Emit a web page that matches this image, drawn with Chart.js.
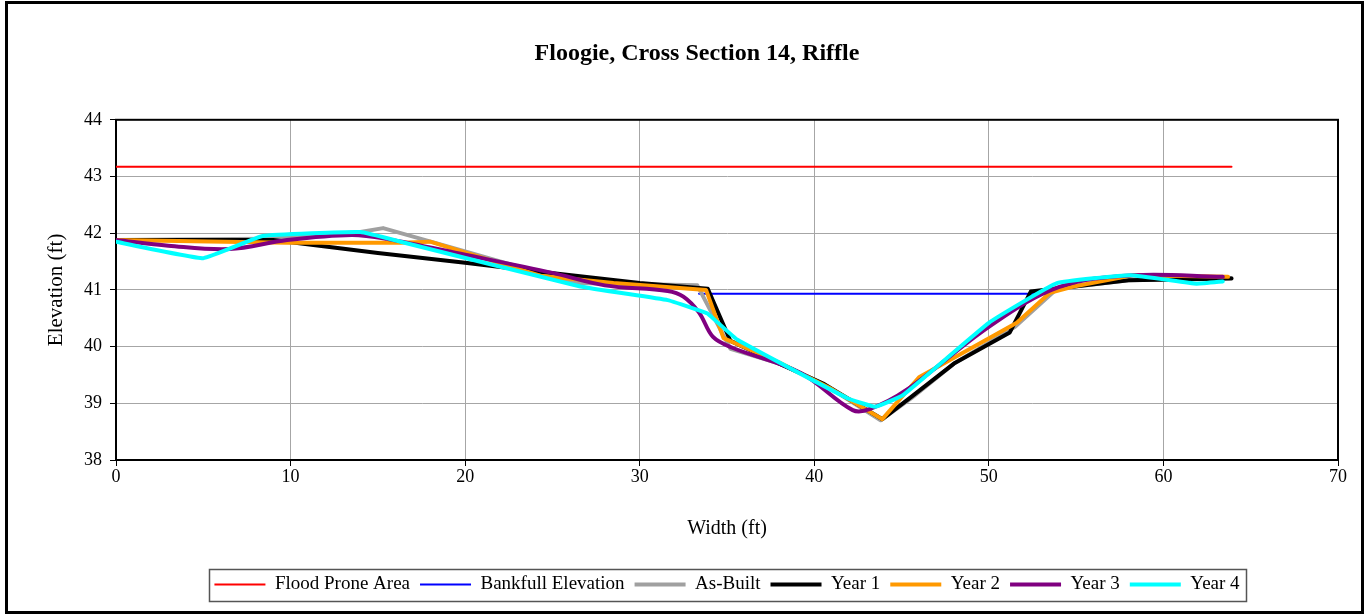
<!DOCTYPE html>
<html>
<head>
<meta charset="utf-8">
<script src="https://cdn.jsdelivr.net/npm/chart.js@4.4.1/dist/chart.umd.min.js"></script>
<style>
html,body{margin:0;padding:0;background:#fff;}
#wrap{width:1366px;height:616px;position:relative;}
</style>
</head>
<body>
<div id="wrap"><canvas id="c" width="1366" height="616"></canvas></div>
<script>
// ---- data ----
const chartTitle = 'Floogie, Cross Section 14, Riffle';
const xTitle = 'Width (ft)';
const yTitle = 'Elevation (ft)';
const seriesNames = ['Flood Prone Area', 'Bankfull Elevation', 'As-Built', 'Year 1', 'Year 2', 'Year 3', 'Year 4'];

const floodX = [0, 63.9];
const floodY = [43.17, 43.17];

const bankX = [33.4, 48.3, 53.5];
const bankY = [40.93, 40.93, 40.93];

const asBuiltX = [0, 8.5, 14, 15.3, 20, 24.3, 26.4, 33.3, 35.2, 38, 40.5, 43.8, 45.6, 48, 51.5, 53.9, 58, 63.9];
const asBuiltY = [41.88, 41.9, 42.02, 42.09, 41.68, 41.3, 41.12, 41.08, 39.96, 39.7, 39.35, 38.7, 39.1, 39.7, 40.35, 41.02, 41.17, 41.21];

const year1X = [0, 9, 15, 20, 24.3, 30, 33.9, 35.2, 38, 40.5, 43.9, 45.5, 48, 51.2, 52.4, 54, 58, 63.9];
const year1Y = [41.88, 41.88, 41.65, 41.48, 41.32, 41.12, 41.02, 40.1, 39.7, 39.35, 38.72, 39.1, 39.7, 40.25, 40.97, 41.03, 41.17, 41.2];

const year2X = [0, 9.8, 16.3, 18, 24.3, 28.5, 33.8, 34.8, 38, 41, 43.9, 46, 51.6, 53.5, 55, 58.3, 63.7];
const year2Y = [41.88, 41.83, 41.83, 41.85, 41.25, 41.12, 41.0, 40.15, 39.72, 39.25, 38.72, 39.46, 40.42, 40.95, 41.07, 41.26, 41.23];

const year3X = [0, 3, 6.5, 9.8, 13.5, 15.5, 20, 25, 28, 31.6, 32.5, 33.4, 34.2, 35.3, 39.2, 42.2, 43.2, 45.3, 50, 54, 58.3, 63.4];
const year3Y = [41.88, 41.78, 41.72, 41.88, 41.97, 41.9, 41.62, 41.3, 41.08, 40.98, 40.88, 40.6, 40.17, 39.98, 39.54, 38.88, 38.9, 39.24, 40.35, 41.05, 41.26, 41.23];

const year4X = [0, 5, 8.4, 14, 16.3, 26.6, 31.6, 33.4, 33.9, 35.6, 41.9, 43.5, 45.1, 50, 53.9, 58.1, 61.9, 63.4];
const year4Y = [41.85, 41.56, 41.95, 42.02, 41.85, 41.06, 40.82, 40.64, 40.58, 40.12, 39.09, 38.94, 39.15, 40.42, 41.12, 41.26, 41.11, 41.15];

const xMin = 0, xMax = 70, xStep = 10;
const yMin = 38, yMax = 44, yStep = 1;

// ---- helpers ----
const pts = (xs, ys) => xs.map((x, i) => ({x: x, y: ys[i]}));
const FONT = '"Liberation Serif", "Times New Roman", serif';

const PLOT_LEFT = 116, PLOT_RIGHT = 1338, PLOT_TOP = 120, PLOT_BOTTOM = 460;
const PAD_L = 40, PAD_R = 1366 - PLOT_RIGHT, PAD_T = 6, PAD_B = 12;

const frames = {
  id: 'frames',
  afterLayout(chart) {
    const t = chart.titleBlock;
    if (t) {
      const want = 697;
      const cur = (t.left + t.right) / 2;
      const d = want - cur;
      t.left += d; t.right += d;
    }
  },
  beforeDatasetsDraw(chart) {
    const ctx = chart.ctx, a = chart.chartArea;
    ctx.save();
    ctx.strokeStyle = '#000';
    ctx.lineWidth = 2;
    ctx.strokeRect(a.left, a.top, a.right - a.left, a.bottom - a.top);
    ctx.restore();
  },
  afterDraw(chart) {
    const ctx = chart.ctx;
    ctx.save();
    ctx.strokeStyle = '#000';
    ctx.lineWidth = 3;
    ctx.strokeRect(6.5, 2.5, 1356, 610);
    const lg = chart.legend;
    if (lg && lg.legendHitBoxes && lg.legendHitBoxes.length) {
      const hb = lg.legendHitBoxes;
      let l = Infinity, r = -Infinity, tp = Infinity, b = -Infinity;
      hb.forEach(h => { l = Math.min(l, h.left); r = Math.max(r, h.left + h.width); tp = Math.min(tp, h.top); b = Math.max(b, h.top + h.height); });
      const cy = (tp + b) / 2;
      ctx.strokeStyle = '#555';
      ctx.lineWidth = 1.5;
      ctx.strokeRect(Math.round(l - 5) + 0.5, Math.round(cy - 16) + 0.5, Math.round(r - l + 12), 32);
    }
    ctx.restore();
  }
};

const mk = (label, xs, ys, color, width, order, tension) => ({
  label: label,
  data: pts(xs, ys),
  borderColor: color,
  backgroundColor: color,
  borderWidth: width,
  pointRadius: 0,
  pointHoverRadius: 0,
  fill: false,
  tension: tension || 0,
  order: order,
  borderJoinStyle: 'round',
  borderCapStyle: 'round'
});

const datasets = [
  mk(seriesNames[0], floodX, floodY, '#ff0000', 2, 6),
  mk(seriesNames[1], bankX, bankY, '#0000ff', 2, 5),
  mk(seriesNames[2], asBuiltX, asBuiltY, '#a0a0a0', 4, 4),
  mk(seriesNames[3], year1X, year1Y, '#000000', 4, 3),
  mk(seriesNames[4], year2X, year2Y, '#ff9900', 4, 2),
  mk(seriesNames[5], year3X, year3Y, '#800080', 4, 1, 0.35),
  mk(seriesNames[6], year4X, year4Y, '#00ffff', 4, 0, 0.1)
];

new Chart(document.getElementById('c'), {
  type: 'line',
  data: { datasets: datasets },
  plugins: [frames],
  options: {
    responsive: false,
    animation: false,
    devicePixelRatio: 1,
    events: [],
    layout: { padding: { left: PAD_L, right: PAD_R, top: PAD_T, bottom: PAD_B } },
    plugins: {
      tooltip: { enabled: false },
      title: {
        display: true,
        text: chartTitle,
        color: '#000',
        font: { family: FONT, size: 24, weight: 'bold', lineHeight: 1.2 },
        padding: { top: 33, bottom: 52 }
      },
      legend: {
        display: true,
        position: 'bottom',
        fullSize: false,
        labels: {
          usePointStyle: true,
          pointStyle: 'line',
          pointStyleWidth: 51,
          color: '#000',
          padding: 10,
          font: { family: FONT, size: 19 },
          sort: (a, b) => a.datasetIndex - b.datasetIndex
        }
      }
    },
    scales: {
      x: {
        type: 'linear',
        min: xMin, max: xMax,
        afterFit(s) { s.height = (616 - PAD_B - 39) - PLOT_BOTTOM; s.paddingLeft = 0; s.paddingRight = 0; },
        ticks: { stepSize: xStep, color: '#000', padding: 0, maxRotation: 0, font: { family: FONT, size: 18 } },
        grid: { color: '#a6a6a6', lineWidth: 1, tickLength: 6, tickColor: '#000', drawTicks: true },
        border: { display: true, color: '#000', width: 2 },
        title: { display: true, text: xTitle, color: '#000', font: { family: FONT, size: 20, lineHeight: 1.2 }, padding: { top: 0, bottom: 24 } }
      },
      y: {
        type: 'linear',
        min: yMin, max: yMax,
        afterFit(s) { s.width = PLOT_LEFT - PAD_L; s.paddingTop = 0; s.paddingBottom = 0; },
        ticks: { stepSize: yStep, color: '#000', padding: 8, font: { family: FONT, size: 18 } },
        grid: { color: '#a6a6a6', lineWidth: 1, tickLength: 6, tickColor: '#000', drawTicks: true },
        border: { display: true, color: '#000', width: 2 },
        title: { display: true, text: yTitle, color: '#000', font: { family: FONT, size: 21, lineHeight: 1.2 }, padding: { top: 4, bottom: 0 } }
      }
    }
  }
});
</script>
</body>
</html>
